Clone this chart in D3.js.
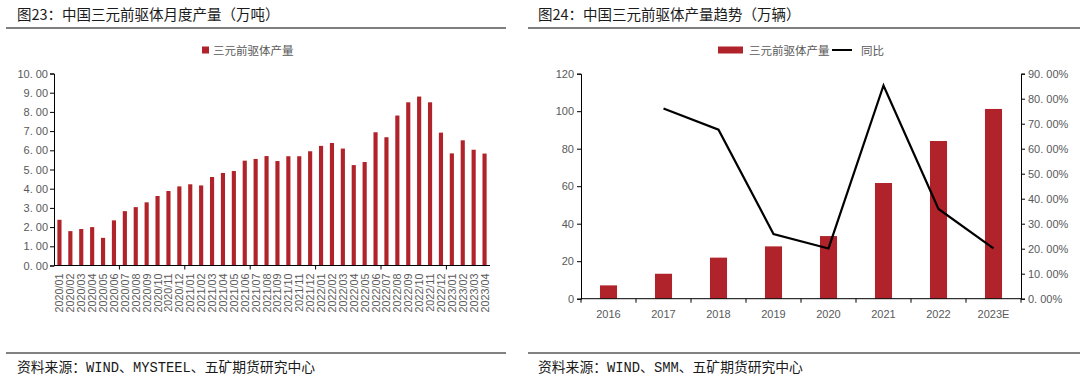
<!DOCTYPE html>
<html>
<head>
<meta charset="utf-8">
<script src="https://cdn.jsdelivr.net/npm/d3@7"></script>
<style>
  body { margin: 0; background: #fff; }
  svg { display: block; }
  .cjk { font-family: "Noto Sans CJK SC", sans-serif; }
  .tick text { font-family: "Liberation Sans", Arial, sans-serif; fill: #595959; }
</style>
</head>
<body>
<div id="chart"></div>
<script>
// Left chart data: monthly output (10k tons)
var months = [
  "2020/01","2020/02","2020/03","2020/04","2020/05","2020/06","2020/07","2020/08","2020/09","2020/10","2020/11","2020/12",
  "2021/01","2021/02","2021/03","2021/04","2021/05","2021/06","2021/07","2021/08","2021/09","2021/10","2021/11","2021/12",
  "2022/01","2022/02","2022/03","2022/04","2022/05","2022/06","2022/07","2022/08","2022/09","2022/10","2022/11","2022/12",
  "2023/01","2023/02","2023/03","2023/04"
];
var monthlyOutput = [
  2.38, 1.79, 1.90, 2.00, 1.44, 2.35, 2.83, 3.04, 3.29, 3.62, 3.88, 4.12,
  4.23, 4.17, 4.61, 4.82, 4.92, 5.46, 5.55, 5.70, 5.44, 5.69, 5.69, 5.95,
  6.23, 6.38, 6.09, 5.23, 5.39, 6.94, 6.68, 7.81, 8.50, 8.80, 8.50, 6.92,
  5.84, 6.52, 6.03, 5.83
];
var leftTicks = [0, 1, 2, 3, 4, 5, 6, 7, 8, 9, 10];

// Right chart data: yearly output and YoY growth
var years = ["2016", "2017", "2018", "2019", "2020", "2021", "2022", "2023E"];
var yearlyOutput = [7.1, 13.3, 21.9, 27.9, 33.4, 61.7, 84.1, 101.2];
var yoy = [null, 0.761, 0.676, 0.259, 0.201, 0.853, 0.359, 0.201];
var rightTicks = [0, 20, 40, 60, 80, 100, 120];
var pctTicks = [0, 0.1, 0.2, 0.3, 0.4, 0.5, 0.6, 0.7, 0.8, 0.9];

var barColor = "#B0232A";
var grayText = "#595959";

// "10. 00" style labels, as in the source
var fmt2 = function (v) { return d3.format(".2f")(v).replace(".", ". "); };
var fmtPct = function (v) { return fmt2(v * 100) + "%"; };

var svg = d3.select("#chart")
    .append("svg")
    .attr("width", 1080)
    .attr("height", 376);

// Headers and footers
function frame(x0, x1, tx, title, source) {
  svg.append("line")
      .attr("x1", x0).attr("x2", x1)
      .attr("y1", 28).attr("y2", 28)
      .attr("stroke", "#7f7f7f").attr("stroke-width", 2);
  svg.append("text")
      .attr("class", "cjk")
      .attr("x", tx).attr("y", 20)
      .style("font-size", "14.5px")
      .style("fill", "#1a1a1a")
      .text(title);
  svg.append("line")
      .attr("x1", x0).attr("x2", x1)
      .attr("y1", 353).attr("y2", 353)
      .attr("stroke", "#595959").attr("stroke-width", 1.5);
  svg.append("text")
      .attr("x", tx).attr("y", 372)
      .style("font-family", "'Liberation Mono', 'Noto Sans CJK SC', monospace")
      .style("font-size", "13.8px")
      .style("fill", "#1a1a1a")
      .text(source);
}
frame(6, 506, 17, "图23：中国三元前驱体月度产量（万吨）", "资料来源：WIND、MYSTEEL、五矿期货研究中心");
frame(528, 1080, 538, "图24：中国三元前驱体产量趋势（万辆）", "资料来源：WIND、SMM、五矿期货研究中心");

// ---------- Left chart ----------
var x1 = d3.scaleBand()
    .domain(months)
    .range([54, 490])
    .paddingInner(0.62)
    .paddingOuter(0.31);

var y1 = d3.scaleLinear()
    .domain([0, 10])
    .range([265.5, 73.5]);

var left = svg.append("g");

left.selectAll("rect.bar")
    .data(monthlyOutput)
    .enter().append("rect")
    .attr("class", "bar")
    .attr("x", function (d, i) { return x1(months[i]); })
    .attr("y", function (d) { return y1(d); })
    .attr("width", x1.bandwidth())
    .attr("height", function (d) { return y1(0) - y1(d); })
    .attr("fill", barColor);

left.append("g")
    .attr("transform", "translate(54,0)")
    .call(d3.axisLeft(y1).tickValues(leftTicks).tickSize(4).tickFormat(fmt2))
    .call(function (g) {
      g.selectAll("text").style("font-size", "11px").attr("x", -6);
      g.selectAll("path, line").attr("stroke", "#000");
    });

// x axis line and major ticks every 6 months
left.append("line")
    .attr("x1", 54).attr("x2", 490)
    .attr("y1", y1(0)).attr("y2", y1(0))
    .attr("stroke", "#000");
left.selectAll("line.major")
    .data(d3.range(6, months.length, 6))
    .enter().append("line")
    .attr("class", "major")
    .attr("x1", function (i) { return x1(months[i]) - x1.step() * x1.paddingInner() / 2; })
    .attr("x2", function (i) { return x1(months[i]) - x1.step() * x1.paddingInner() / 2; })
    .attr("y1", y1(0)).attr("y2", y1(0) + 4)
    .attr("stroke", "#000");

left.selectAll("text.month")
    .data(months)
    .enter().append("text")
    .attr("class", "month")
    .attr("transform", function (d) {
      return "translate(" + (x1(d) + x1.bandwidth() / 2 + 4) + "," + (y1(0) + 8) + ") rotate(-90)";
    })
    .attr("text-anchor", "end")
    .style("font-family", "'Liberation Sans', Arial, sans-serif")
    .style("font-size", "10.8px")
    .style("fill", grayText)
    .text(function (d) { return d; });

// Legend
left.append("rect")
    .attr("x", 202).attr("y", 46.5)
    .attr("width", 7).attr("height", 7)
    .attr("fill", barColor);
left.append("text")
    .attr("class", "cjk")
    .attr("x", 213).attr("y", 54.5)
    .style("font-size", "11.5px")
    .style("fill", grayText)
    .text("三元前驱体产量");

// ---------- Right chart ----------
var x2 = d3.scaleBand()
    .domain(years)
    .range([581, 1021])
    .paddingInner(0.69)
    .paddingOuter(0.345);

var y2 = d3.scaleLinear()
    .domain([0, 120])
    .range([298.7, 73.7]);

var y2r = d3.scaleLinear()
    .domain([0, 0.9])
    .range([298.7, 73.7]);

var right = svg.append("g");

right.selectAll("rect.bar")
    .data(yearlyOutput)
    .enter().append("rect")
    .attr("class", "bar")
    .attr("x", function (d, i) { return x2(years[i]); })
    .attr("y", function (d) { return y2(d); })
    .attr("width", x2.bandwidth())
    .attr("height", function (d) { return y2(0) - y2(d); })
    .attr("fill", barColor);

right.append("g")
    .attr("transform", "translate(581,0)")
    .call(d3.axisLeft(y2).tickValues(rightTicks).tickSize(4))
    .call(function (g) {
      g.selectAll("text").style("font-size", "11px");
      g.selectAll("path, line").attr("stroke", "#000");
    });

right.append("g")
    .attr("transform", "translate(1021,0)")
    .call(d3.axisRight(y2r).tickValues(pctTicks).tickSize(4).tickFormat(fmtPct))
    .call(function (g) {
      g.selectAll("text").style("font-size", "11px");
      g.selectAll("path, line").attr("stroke", "#000");
    });

right.append("line")
    .attr("x1", 581).attr("x2", 1021)
    .attr("y1", y2(0)).attr("y2", y2(0))
    .attr("stroke", "#000");
right.selectAll("line.cat")
    .data(d3.range(years.length + 1))
    .enter().append("line")
    .attr("class", "cat")
    .attr("x1", function (i) { return 581 + i * x2.step(); })
    .attr("x2", function (i) { return 581 + i * x2.step(); })
    .attr("y1", y2(0)).attr("y2", y2(0) + 4)
    .attr("stroke", "#000");

right.selectAll("text.year")
    .data(years)
    .enter().append("text")
    .attr("class", "year")
    .attr("x", function (d) { return x2(d) + x2.bandwidth() / 2; })
    .attr("y", 318)
    .attr("text-anchor", "middle")
    .style("font-family", "'Liberation Sans', Arial, sans-serif")
    .style("font-size", "11px")
    .style("fill", grayText)
    .text(function (d) { return d; });

var yoyData = years.map(function (d, i) { return { year: d, v: yoy[i] }; })
    .filter(function (d) { return d.v !== null; });

right.append("path")
    .datum(yoyData)
    .attr("fill", "none")
    .attr("stroke", "#000")
    .attr("stroke-width", 2.2)
    .attr("stroke-linejoin", "miter")
    .attr("d", d3.line()
      .x(function (d) { return x2(d.year) + x2.bandwidth() / 2; })
      .y(function (d) { return y2r(d.v); })
    );

// Legend
right.append("rect")
    .attr("x", 718).attr("y", 46.5)
    .attr("width", 25).attr("height", 7)
    .attr("fill", barColor);
right.append("text")
    .attr("class", "cjk")
    .attr("x", 749).attr("y", 54.5)
    .style("font-size", "11.5px")
    .style("fill", grayText)
    .text("三元前驱体产量");
right.append("line")
    .attr("x1", 832).attr("x2", 852)
    .attr("y1", 50).attr("y2", 50)
    .attr("stroke", "#000").attr("stroke-width", 2);
right.append("text")
    .attr("class", "cjk")
    .attr("x", 861).attr("y", 54.5)
    .style("font-size", "11.5px")
    .style("fill", grayText)
    .text("同比");
</script>
</body>
</html>
